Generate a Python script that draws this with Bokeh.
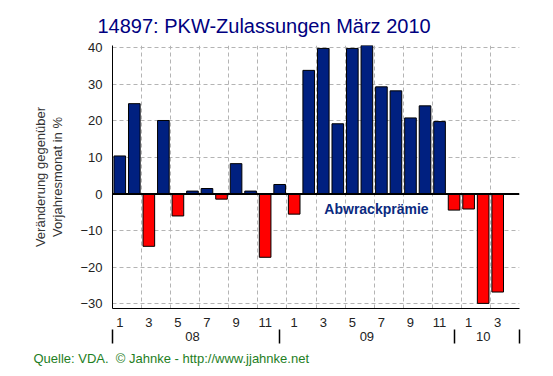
from bokeh.plotting import figure
from bokeh.models import Range1d, FixedTicker, LinearAxis, Span, Label, Title, ColumnDataSource
from bokeh.embed import file_html
from bokeh.resources import INLINE

# ---- data ----
months = list(range(1, 13)) + list(range(1, 13)) + [1, 2, 3]
values = [10.4, 24.7, -14.3, 20.1, -6.0, 0.8, 1.5, -1.4, 8.3, 0.8, -17.3, 2.6,
          -5.5, 33.8, 39.8, 19.2, 39.8, 40.6, 29.3, 28.2, 20.8, 24.1, 19.8, -4.4,
          -4.1, -29.9, -26.8]
years = ["08", "09", "10"]
year_centers = [6, 18, 26]
year_separators = [0.5, 12, 24, 28.5]
y_ticks = [-30, -20, -10, 0, 10, 20, 30, 40]

FONT = "Liberation Sans"
BLUE = "#002080"
RED = "#ff0000"

xpos = list(range(1, len(values) + 1))
colors = [BLUE if v >= 0 else RED for v in values]
src = ColumnDataSource(dict(x=xpos, top=values, color=colors))

p = figure(width=553, height=376, x_range=Range1d(0.5, 28.5), y_range=Range1d(-31.3, 40.6),
           output_backend="svg", toolbar_location=None,
           min_border_left=112, min_border_right=34, min_border_top=45, min_border_bottom=68)
p.outline_line_color = None
p.background_fill_color = "white"
p.border_fill_color = "white"

# grids
p.xgrid.ticker = FixedTicker(ticks=[0.5 + 2 * i for i in range(15)])
p.ygrid.ticker = FixedTicker(ticks=y_ticks)
for g in (p.xgrid[0], p.ygrid[0]):
    g.grid_line_color = "#b4b4b4"
    g.grid_line_dash = "4 3"
    g.grid_line_width = 1

p.vbar(x="x", top="top", bottom=0, width=0.8, fill_color="color",
       line_color="black", line_width=1, source=src)
p.add_layout(Span(location=0, dimension="width", line_color="black", line_width=2))

# month axis
xa = p.xaxis[0]
odd = [x for x, m in zip(xpos, months) if m % 2 == 1]
xa.ticker = FixedTicker(ticks=odd)
xa.major_label_overrides = {x: str(m) for x, m in zip(xpos, months) if m % 2 == 1}
xa.major_tick_out = 0
xa.major_tick_in = 0
xa.minor_tick_out = 0
xa.minor_tick_in = 0
xa.axis_line_color = "black"
xa.major_label_standoff = 9
xa.major_label_text_font = FONT
xa.major_label_text_font_size = "13px"
xa.major_label_text_color = "#222222"

# year axis
ya2 = LinearAxis(ticker=FixedTicker(ticks=year_centers, minor_ticks=year_separators),
                 major_label_overrides={c: y for c, y in zip(year_centers, years)})
ya2.major_tick_out = 0
ya2.major_tick_in = 0
ya2.minor_tick_out = 14
ya2.minor_tick_in = 0
ya2.minor_tick_line_color = "black"
ya2.minor_tick_line_width = 1.5
ya2.axis_line_color = None
ya2.major_label_standoff = -12
ya2.major_label_text_font = FONT
ya2.major_label_text_font_size = "13px"
ya2.major_label_text_color = "#222222"
p.add_layout(ya2, "below")

# y axis
yax = p.yaxis[0]
yax.ticker = FixedTicker(ticks=y_ticks)
yax.major_tick_out = 0
yax.major_tick_in = 0
yax.minor_tick_out = 0
yax.minor_tick_in = 0
yax.axis_line_color = "black"
yax.major_label_standoff = 10
yax.major_label_text_font = FONT
yax.major_label_text_font_size = "13px"
yax.major_label_text_color = "#222222"
yax.axis_label = "Vorjahresmonat in %"
yax.axis_label_standoff = 12
yax.axis_label_text_font = FONT
yax.axis_label_text_font_size = "13px"
yax.axis_label_text_font_style = "normal"
yax.axis_label_text_color = "#333333"

yl2 = LinearAxis(ticker=FixedTicker(ticks=[]), axis_label="Veränderung gegenüber")
yl2.axis_line_color = None
yl2.major_tick_out = 0
yl2.major_tick_in = 0
yl2.minor_tick_out = 0
yl2.minor_tick_in = 0
yl2.axis_label_standoff = 0
yl2.axis_label_text_font = FONT
yl2.axis_label_text_font_size = "13px"
yl2.axis_label_text_font_style = "normal"
yl2.axis_label_text_color = "#333333"
p.add_layout(yl2, "left")

# title
p.title.text = "14897: PKW-Zulassungen März 2010"
p.title.align = "left"
p.title.offset = -15
p.title.standoff = 18
p.title.text_font = FONT
p.title.text_font_size = "20px"
p.title.text_font_style = "normal"
p.title.text_color = "#000080"

# annotation
p.add_layout(Label(x=18.66, y=-4.0, text="Abwrackprämie", text_align="center",
                   text_baseline="middle", text_font=FONT, text_font_size="14px",
                   text_font_style="bold", text_color="#0a2a80"))

# source
p.add_layout(Title(text="Quelle: VDA.\u00a0 © Jahnke - http://www.jjahnke.net", align="left",
                   offset=-79, text_font=FONT, text_font_size="13px",
                   text_font_style="normal", text_color="#1e7e1e"), "below")

open("out.html", "w").write(file_html(p, INLINE))
